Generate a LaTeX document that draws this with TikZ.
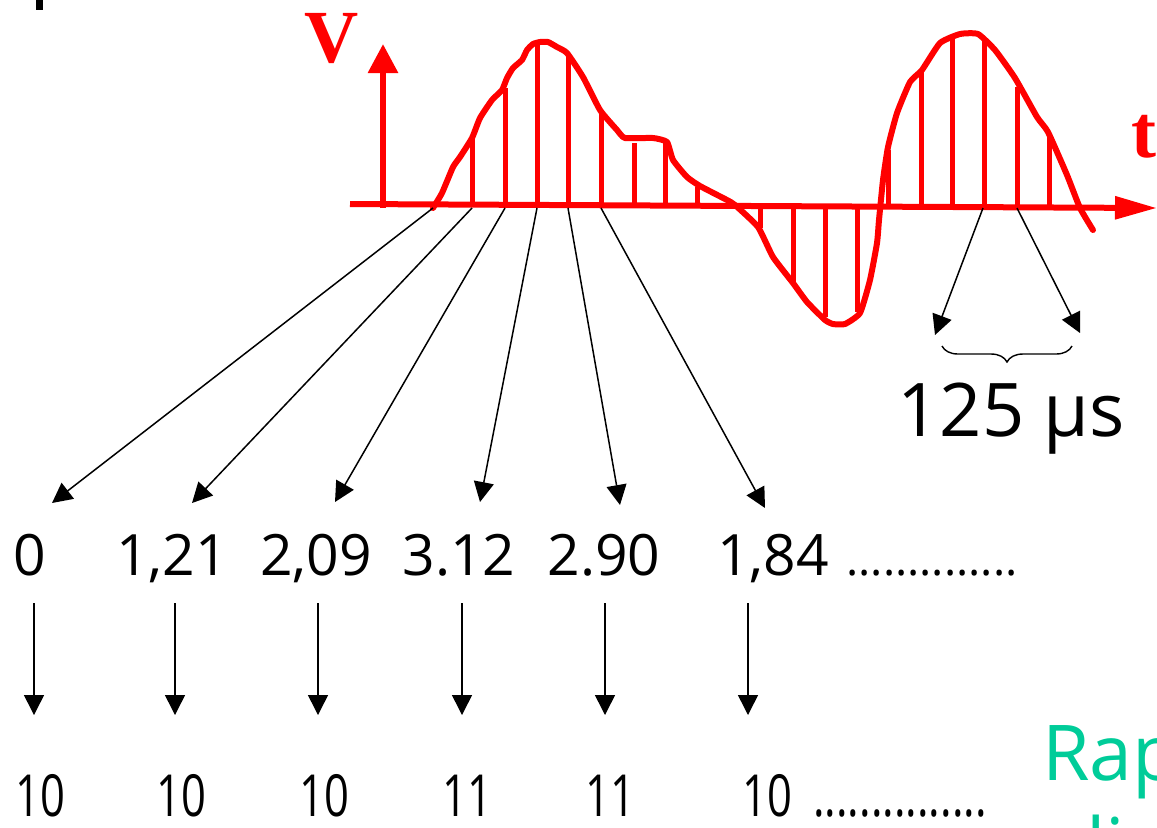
\documentclass[tikz,border=0pt]{standalone}
\usepackage{fontspec}
\setmainfont{Open Sans}
\newfontfamily\axisfont{Liberation Serif}
\newfontfamily\codefont{Open Sans}[FakeStretch=0.75]
\usetikzlibrary{arrows.meta,decorations.pathreplacing}
\definecolor{rapgreen}{RGB}{0,204,153}
\tikzset{
  signal/.style={red, line width=3pt, line join=round, line cap=round},
  sample/.style={red, line width=2.5pt},
  pointer/.style={-{Triangle[width=10pt,length=10pt]}, line width=0.75pt},
  value/.style={anchor=base, inner sep=0pt, font=\fontsize{28.5}{30}\selectfont},
  code/.style={anchor=base, inner sep=0pt, font=\codefont\fontsize{29}{30}\selectfont},
  axislabel/.style={red, inner sep=0pt, font=\axisfont\bfseries\fontsize{37.5}{38}\selectfont}
}
\begin{document}
\begin{tikzpicture}[x=0.5pt,y=-0.5pt]
    \useasboundingbox (0,0) rectangle (1157,827);

    % scrap in the corner
    \fill (36,0) rectangle (43,10);

    % Axes
    \draw[red, line width=3pt, -{Triangle[width=14.5pt,length=14.5pt]}] (383,208) -- (383,44);
    \draw[red, line width=3pt, -{Triangle[width=11pt,length=21pt]}] (350,204) -- (1157,208);
    \node[axislabel, anchor=base] (vlabel) at (332,62) {V};
    \node[axislabel, anchor=base west] (tlabel) at (1131,157) {t};

    % Samples
    \draw[sample] (472,206) -- (472,138) (505,206) -- (505,88) (537,206) -- (537,42)
        (568,206) -- (568,55) (601,206) -- (601,110) (634,206) -- (634,143)
        (665,206) -- (665,142) (697,206) -- (697,187);
    \draw[sample] (760,206) -- (760,228) (793,206) -- (793,282) (825,206) -- (825,317)
        (857,206) -- (857,312);
    \draw[sample] (888,207) -- (888,150) (921,207) -- (921,72) (952,207) -- (952,38)
        (984,207) -- (984,38) (1017,207) -- (1017,87) (1049,207) -- (1049,135);

    % Signal
    \draw[signal] plot[smooth, tension=0.3] coordinates {
        (433,208) (442,193) (453,167) (460,157) (472,138) (480,118) (492,100) (502,90)
        (507,78) (513,68) (522,60) (527,50) (533,44) (540,42) (548,42) (557,47) (567,53)
        (583,77) (600,110) (617,130) (625,138) (653,138) (667,142) (673,160) (687,177)
        (700,186) (727,200) (735,205) (758,227) (773,257) (793,283) (807,302) (825,320)
        (833,324) (845,324) (860,313) (870,280) (877,243) (879,220) (883,180) (888,147)
        (897,113) (910,82) (922,70) (940,43) (960,34) (978,34) (995,50) (1015,78)
        (1037,117) (1048,132) (1067,175) (1080,208) (1093,230)};

    % Sample values
    \node[value] (v0) at (30,575) {0};
    \node[value] (v1) at (172,575) {1,21};
    \node[value] (v2) at (316,575) {2,09};
    \node[value] (v3) at (459,575) {3.12};
    \node[value] (v4) at (604,575) {2.90};
    \node[value] (v5) at (773,575) {1,84};
    \node[value, font=\fontsize{23}{24}\selectfont] (vdots) at (932,575) {..............};

    % Sampling points and arrow ends
    \coordinate (s0) at (433,208);
    \coordinate (s1) at (472,208);
    \coordinate (s2) at (505,208);
    \coordinate (s3) at (537,208);
    \coordinate (s4) at (568,208);
    \coordinate (s5) at (601,208);
    \coordinate (s6) at (983,208);
    \coordinate (s7) at (1017,208);
    \coordinate (e0) at (52,503);
    \coordinate (e1) at (192,503);
    \coordinate (e2) at (335,502);
    \coordinate (e3) at (480,502);
    \coordinate (e4) at (620,505);
    \coordinate (e5) at (765,508);
    \coordinate (e6) at (935,335);
    \coordinate (e7) at (1080,333);

    \draw[pointer] (s0) -- (e0);
    \draw[pointer] (s1) -- (e1);
    \draw[pointer] (s2) -- (e2);
    \draw[pointer] (s3) -- (e3);
    \draw[pointer] (s4) -- (e4);
    \draw[pointer] (s5) -- (e5);
    \draw[pointer] (s6) -- (e6);
    \draw[pointer] (s7) -- (e7);

    % Sampling period
    \draw[line width=0.7pt, decorate, decoration={brace, mirror, amplitude=8pt}] (942,346) -- (1072,346);
    \node[anchor=base, inner sep=0pt, font=\fontsize{37}{40}\selectfont] (period) at (1011,436) {125 μs};

    % Coding
    \coordinate (u0) at (34,603);
    \coordinate (u1) at (175,603);
    \coordinate (u2) at (318,603);
    \coordinate (u3) at (462,603);
    \coordinate (u4) at (605,603);
    \coordinate (u5) at (748,603);
    \coordinate (d0) at (34,715);
    \coordinate (d1) at (175,715);
    \coordinate (d2) at (318,715);
    \coordinate (d3) at (462,715);
    \coordinate (d4) at (605,715);
    \coordinate (d5) at (748,715);
    \draw[pointer] (u0) -- (d0);
    \draw[pointer] (u1) -- (d1);
    \draw[pointer] (u2) -- (d2);
    \draw[pointer] (u3) -- (d3);
    \draw[pointer] (u4) -- (d4);
    \draw[pointer] (u5) -- (d5);

    \node[code] (c0) at (40,816) {10};
    \node[code] (c1) at (181,816) {10};
    \node[code] (c2) at (324,816) {10};
    \node[code] (c3) at (467,816) {11};
    \node[code] (c4) at (610,816) {11};
    \node[code] (c5) at (767,816) {10};
    \node[code] (cdots) at (900,816) {...............};

    \node[anchor=base west, inner sep=0pt, rapgreen, font=\fontsize{38.5}{40}\selectfont] (rap) at (1042,780) {Rap};
    \node[anchor=base west, inner sep=0pt, rapgreen, font=\fontsize{38.5}{40}\selectfont] (li) at (1086,873) {li};
\end{tikzpicture}
\end{document}
